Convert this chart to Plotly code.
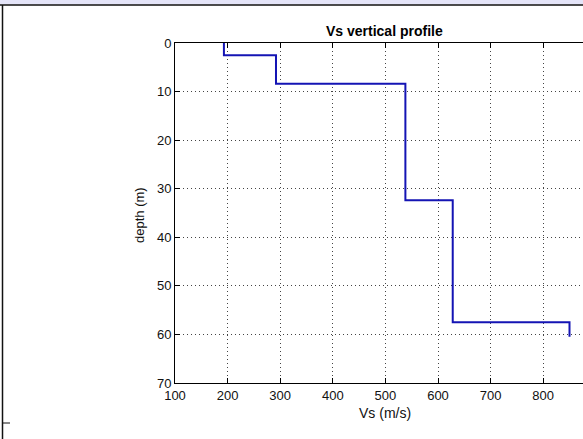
import plotly.graph_objects as go

# Layered shear-wave velocity model
layer_vs = [193, 292, 538, 628, 850]          # m/s
layer_top = [0.0, 2.5, 8.4, 32.4, 57.5]       # m
layer_bottom = [2.5, 8.4, 32.4, 57.5, 60.5]   # m

x_ticks = [100, 200, 300, 400, 500, 600, 700, 800, 900]
y_ticks = [0, 10, 20, 30, 40, 50, 60, 70]

# Build the staircase profile from the layers
xs, ys = [], []
for v, top, bot in zip(layer_vs, layer_top, layer_bottom):
    xs += [v, v]
    ys += [top, bot]

W, H = 583, 439
L, T, B = 175, 43, 56
PW, PH = W - L, H - T - B
px_per_unit = 420.8 / 800.0


def px_x(p):
    return (p - L) / PW


def px_y(p):
    return 1 - (p - T) / PH


font = "Liberation Sans, Arial, Helvetica, sans-serif"

fig = go.Figure()
fig.add_trace(go.Scatter(
    x=xs, y=ys, mode="lines",
    line=dict(color="#1414B4", width=2),
    hoverinfo="skip", showlegend=False,
))

axis_common = dict(
    showline=True, linecolor="#000", linewidth=1,
    ticks="inside", ticklen=5, tickcolor="#000",
    showgrid=True, gridcolor="#444", gridwidth=1, griddash="1px,3px",
    zeroline=False,
    tickfont=dict(family=font, size=13, color="#111"),
)

fig.update_xaxes(
    range=[100, 100 + PW / px_per_unit],
    tickvals=x_ticks, mirror="ticks", **axis_common,
)
fig.update_yaxes(
    range=[70, 0], autorange=False,
    tickvals=y_ticks, mirror=False, **axis_common,
)

cx = px_x(384.5)
fig.update_layout(
    width=W, height=H,
    margin=dict(l=L, r=0, t=T, b=B, pad=0),
    paper_bgcolor="#fff", plot_bgcolor="#fff",
    annotations=[
        dict(text="<b>Vs vertical profile</b>", x=cx, y=px_y(31), xref="paper", yref="paper",
             showarrow=False, font=dict(family=font, size=14, color="#000"),
             xanchor="center", yanchor="middle"),
        dict(text="Vs (m/s)", x=cx, y=px_y(413), xref="paper", yref="paper",
             showarrow=False, font=dict(family=font, size=14, color="#111"),
             xanchor="center", yanchor="middle"),
        dict(text="depth (m)", x=px_x(139), y=px_y(215), xref="paper", yref="paper",
             showarrow=False, textangle=-90, font=dict(family=font, size=13, color="#111"),
             xanchor="center", yanchor="middle"),
    ],
    shapes=[
        # window header band and frame
        dict(type="rect", xref="paper", yref="paper",
             x0=px_x(0), x1=px_x(W), y0=px_y(0), y1=px_y(4.5),
             fillcolor="#E4E4F8", line=dict(width=0), layer="above"),
        dict(type="line", xref="paper", yref="paper",
             x0=px_x(0), x1=px_x(W), y0=px_y(5), y1=px_y(5),
             line=dict(color="#111", width=1.5)),
        dict(type="line", xref="paper", yref="paper",
             x0=px_x(2.5), x1=px_x(2.5), y0=px_y(5), y1=px_y(H),
             line=dict(color="#111", width=1.5)),
        dict(type="line", xref="paper", yref="paper",
             x0=px_x(2.5), x1=px_x(10), y0=px_y(423), y1=px_y(423),
             line=dict(color="#111", width=1)),
    ],
)

fig.write_html("out.html")
